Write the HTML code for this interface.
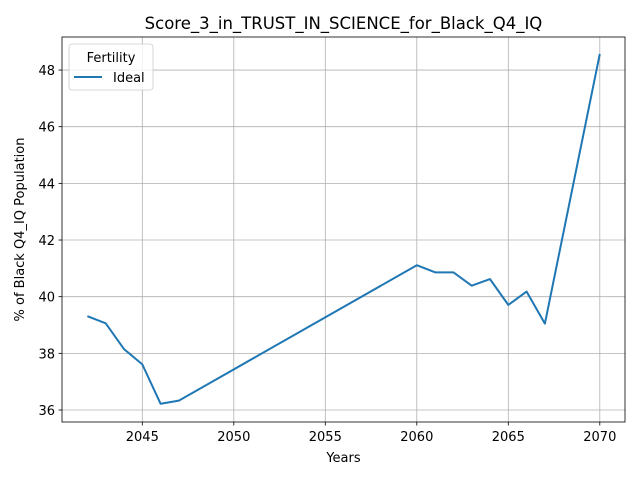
<!DOCTYPE html>
<html><head><meta charset="utf-8"><style>
body{margin:0;background:#fff;font-family:"Liberation Sans","DejaVu Sans",sans-serif}
</style></head><body>
<svg id="chart" width="640" height="480" xmlns="http://www.w3.org/2000/svg" font-family="DejaVu Sans, Liberation Sans, sans-serif"></svg>
<script>
const years=[2042,2043,2044,2045,2046,2047,2060,2061,2062,2063,2064,2065,2066,2067,2070];
const idealValues=[39.31,39.06,38.15,37.61,36.22,36.33,41.11,40.86,40.86,40.39,40.62,39.71,40.18,39.05,48.57];
const xTicks=[2045,2050,2055,2060,2065,2070];
const yTicks=[36,38,40,42,44,46,48];
const L=62,R=625,T=37,B=422;
function xs(v){return 142.3+(v-2045)*18.3;}
function ys(v){return 410-(v-36)*28.33;}
const svg=document.getElementById('chart');
const NS='http://www.w3.org/2000/svg';
function mk(t,a,txt){const e=document.createElementNS(NS,t);for(const k in a)e.setAttribute(k,a[k]);if(txt!==undefined)e.textContent=txt;svg.appendChild(e);return e;}
xTicks.forEach(t=>{const x=xs(t);
 let g=mk('line',{x1:x,x2:x,y1:T,y2:B,stroke:'#b0b0b0','stroke-width':0.8});
 
 
 mk('line',{x1:x,x2:x,y1:B,y2:B+3.5,stroke:'#000','stroke-width':0.8});
 let l=mk('text',{x:x,y:B+19,'font-size':13,'text-anchor':'middle'},t);
 
 
});
yTicks.forEach(t=>{const y=ys(t);
 let g=mk('line',{x1:L,x2:R,y1:y,y2:y,stroke:'#b0b0b0','stroke-width':0.8});
 
 
 mk('line',{x1:L-3.5,x2:L,y1:y,y2:y,stroke:'#000','stroke-width':0.8});
 let l=mk('text',{x:L-7,y:y+5,'font-size':13,'text-anchor':'end'},t);
 
 
});
let p=mk('polyline',{points:years.map((y,i)=>xs(y)+','+ys(idealValues[i])).join(' '),fill:'none',stroke:'#1f77b4','stroke-width':2,'stroke-linejoin':'round'});


let f=mk('rect',{x:L,y:T,width:R-L,height:B-T,fill:'none',stroke:'#000','stroke-width':0.8});


let ti=mk('text',{x:(L+R)/2,y:29,'font-size':16.5,'text-anchor':'middle'},'Score_3_in_TRUST_IN_SCIENCE_for_Black_Q4_IQ');


let xt=mk('text',{x:(L+R)/2,y:462,'font-size':13,'text-anchor':'middle'},'Years');


let yt=mk('text',{x:0,y:0,'font-size':13,'text-anchor':'middle',transform:'translate(24,'+((T+B)/2)+') rotate(-90)'},'% of Black Q4_IQ Population');


let lg=mk('rect',{x:69,y:44,width:84,height:46,rx:3,fill:'#fff','fill-opacity':0.8,stroke:'#ccc','stroke-width':0.8});


let lt=mk('text',{x:111,y:62,'font-size':13,'text-anchor':'middle'},'Fertility');


let ll=mk('line',{x1:74,x2:102,y1:77,y2:77,stroke:'#1f77b4','stroke-width':2});


let le=mk('text',{x:113,y:82,'font-size':13},'Ideal');


</script>
</body></html>
